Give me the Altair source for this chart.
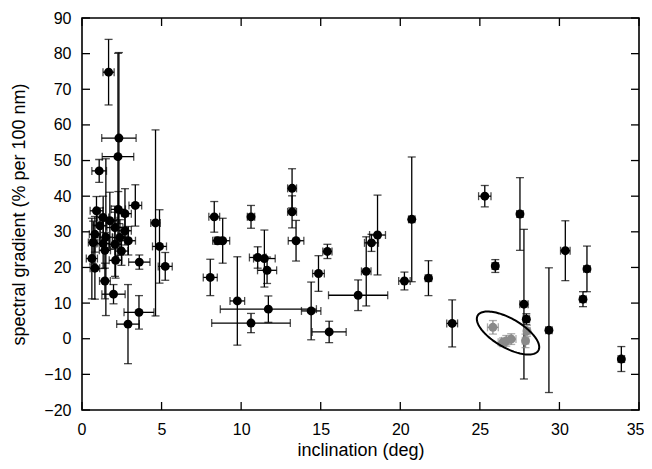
import altair as alt
import numpy as np
import pandas as pd

# ---- data ----
# black points: inclination, gradient, x-error, y-error
bx = [1.67, 2.32, 2.26, 1.08, 3.35, 4.62, 4.87, 5.23, 3.60, 3.58, 2.89, 1.98, 1.44, 0.81, 0.62,
      0.91, 2.28, 2.70, 1.33, 1.75, 1.13, 2.07, 2.70, 0.81, 1.50, 2.38, 2.91, 0.70, 1.33, 2.07,
      1.44, 2.48, 2.11,
      8.31, 10.62, 8.52, 8.84, 8.06, 9.76, 10.62, 11.71, 11.04, 11.46, 11.63, 13.20, 13.20, 13.45,
      15.42, 14.86, 14.40, 15.53, 17.35, 17.86, 18.19, 18.57,
      20.72, 20.26, 21.77, 23.26, 25.31, 25.97, 27.52, 27.77, 27.92, 29.34, 30.37, 31.48, 31.73, 33.89]
by = [74.8, 56.3, 51.1, 47.1, 37.4, 32.5, 25.9, 20.3, 21.5, 7.4, 4.1, 12.5, 16.2, 19.8, 22.5,
      35.9, 36.3, 35.1, 34.0, 33.1, 31.7, 31.2, 30.3, 29.3, 28.5, 28.4, 27.5, 27.0, 26.7, 26.5,
      24.8, 24.6, 22.0,
      34.2, 34.2, 27.5, 27.5, 17.2, 10.6, 4.4, 8.3, 22.8, 22.5, 19.2, 42.2, 35.6, 27.5,
      24.5, 18.3, 7.8, 1.9, 12.2, 18.9, 26.9, 29.1,
      33.5, 16.2, 17.0, 4.3, 40.0, 20.4, 35.0, 9.7, 5.5, 2.4, 24.7, 11.1, 19.6, -5.7]
bxe = [0.35, 1.08, 0.99, 0.46, 0.40, 0.30, 0.44, 0.44, 0.67, 0.94, 0.71, 0.73, 0.34, 0.30, 0.35,
       0.40, 0.45, 0.40, 0.35, 0.45, 0.40, 0.50, 0.40, 0.35, 0.40, 0.45, 0.45, 0.30, 0.40, 0.40,
       0.35, 0.40, 0.40,
       0.34, 0.23, 0.31, 0.44, 0.44, 0.46, 2.47, 3.02, 0.52, 0.68, 0.60, 0.28, 0.28, 0.49,
       0.29, 0.37, 0.61, 1.07, 1.86, 0.30, 0.44, 0.50,
       0.20, 0.36, 0.20, 0.34, 0.39, 0.20, 0.20, 0.26, 0.20, 0.20, 0.30, 0.20, 0.20, 0.20]
bye = [9.2, 24.0, 29.0, 3.2, 5.8, 26.1, 10.3, 3.9, 2.0, 4.7, 11.1, 2.7, 5.0, 8.7, 11.3,
       4.0, 5.0, 7.0, 6.0, 8.0, 5.0, 6.0, 4.0, 5.0, 22.0, 5.0, 4.0, 6.0, 7.0, 9.0,
       5.0, 4.0, 5.0,
       4.3, 3.2, 1.0, 6.3, 5.1, 12.4, 2.7, 3.7, 3.0, 8.0, 3.7, 5.5, 4.5, 5.7,
       2.0, 5.0, 8.1, 3.0, 4.3, 9.7, 2.4, 11.2,
       17.5, 2.5, 4.9, 6.6, 3.0, 1.8, 10.2, 21.0, 1.5, 17.5, 8.4, 2.1, 6.4, 3.5]

# grey (circled) points
gx = [25.82, 26.45, 26.66, 26.97, 27.87, 27.96]
gy = [3.2, -1.0, -0.6, -0.1, -0.6, 2.2]
gxe = [0.34, 0.30, 0.30, 0.30, 0.20, 0.20]
gye = [1.9, 1.2, 1.5, 1.5, 1.9, 1.5]

# ellipse around the grey points (centre and conjugate semi-axes, data units)
ell_cx, ell_cy = 26.77, 1.6
ell_rx = [1.906, -0.456]
ell_ry = [-4.91, -3.52]

x_ticks = [0, 5, 10, 15, 20, 25, 30, 35]
y_ticks = [-20, -10, 0, 10, 20, 30, 40, 50, 60, 70, 80, 90]
x_title = "inclination (deg)"
y_title = "spectral gradient (% per 100 nm)"

W, H = 557, 392
FONT = "Liberation Sans"

xs = alt.Scale(domain=[0, 35], nice=False, zero=False)
ys = alt.Scale(domain=[-20, 90], nice=False, zero=False)
x_axis = alt.Axis(values=x_ticks, labelPadding=11, titlePadding=4,
                  labelFlush=True, labelFlushOffset=5)
y_axis = alt.Axis(values=y_ticks, labelPadding=11, titlePadding=15)


def XE(field):
    return alt.X(field, type="quantitative", scale=xs, axis=x_axis, title=x_title)


def YE(field):
    return alt.Y(field, type="quantitative", scale=ys, axis=y_axis, title=y_title)


def layers(x, y, xe, ye, color):
    df = pd.DataFrame({"x": x, "y": y, "xe": xe, "ye": ye})
    base = alt.Chart(df).transform_calculate(
        xlo="datum.x - datum.xe", xhi="datum.x + datum.xe",
        ylo="datum.y - datum.ye", yhi="datum.y + datum.ye")
    sw = 1.3
    yrule = base.mark_rule(color=color, strokeWidth=sw).encode(
        x=XE("x"), y=YE("ylo"), y2="yhi:Q")
    xrule = base.mark_rule(color=color, strokeWidth=sw).encode(
        x=XE("xlo"), x2="xhi:Q", y=YE("y"))
    ycap1 = base.mark_tick(color=color, orient="horizontal", size=8, thickness=sw).encode(
        x=XE("x"), y=YE("ylo"))
    ycap2 = base.mark_tick(color=color, orient="horizontal", size=8, thickness=sw).encode(
        x=XE("x"), y=YE("yhi"))
    xcap1 = base.mark_tick(color=color, orient="vertical", size=8, thickness=sw).encode(
        x=XE("xlo"), y=YE("y"))
    xcap2 = base.mark_tick(color=color, orient="vertical", size=8, thickness=sw).encode(
        x=XE("xhi"), y=YE("y"))
    pts = base.mark_circle(color=color, size=80, opacity=1).encode(
        x=XE("x"), y=YE("y"))
    return [yrule, xrule, ycap1, ycap2, xcap1, xcap2, pts]


black = layers(bx, by, bxe, bye, "#000000")
grey = layers(gx, gy, gxe, gye, "#8a8a8a")

t = np.linspace(0, 2 * np.pi, 121)
ell_df = pd.DataFrame({
    "x": ell_cx + ell_rx[0] * np.cos(t) + ell_rx[1] * np.sin(t),
    "y": ell_cy + ell_ry[0] * np.cos(t) + ell_ry[1] * np.sin(t),
    "i": np.arange(len(t)),
})
ellipse = alt.Chart(ell_df).mark_line(color="black", strokeWidth=2).encode(
    x=XE("x"), y=YE("y"), order="i:Q")

xt = pd.DataFrame({"t": x_ticks})
yt = pd.DataFrame({"t": y_ticks})
tl = 8
tick_layers = [
    alt.Chart(xt).mark_rule(color="black", strokeWidth=1.3).encode(
        x=XE("t"), y=alt.value(H), y2=alt.value(H - tl)),
    alt.Chart(xt).mark_rule(color="black", strokeWidth=1.3).encode(
        x=XE("t"), y=alt.value(0), y2=alt.value(tl)),
    alt.Chart(yt).mark_rule(color="black", strokeWidth=1.3).encode(
        y=YE("t"), x=alt.value(0), x2=alt.value(tl)),
    alt.Chart(yt).mark_rule(color="black", strokeWidth=1.3).encode(
        y=YE("t"), x=alt.value(W), x2=alt.value(W - tl)),
]

chart = alt.layer(*black, *grey, ellipse, *tick_layers).properties(
    width=W, height=H,
    autosize=alt.AutoSizeParams(type="none"),
    padding={"left": 74, "top": 10, "right": 5, "bottom": 51},
).configure_view(
    stroke="black", strokeWidth=1.6
).configure_axis(
    grid=False, ticks=False, domain=False,
    labelFont=FONT, titleFont=FONT, labelFontSize=16, titleFontSize=18,
    labelColor="black", titleColor="black", titleFontWeight="normal",
)

chart.save("out.html", embed_options={"renderer": "svg", "actions": False})
